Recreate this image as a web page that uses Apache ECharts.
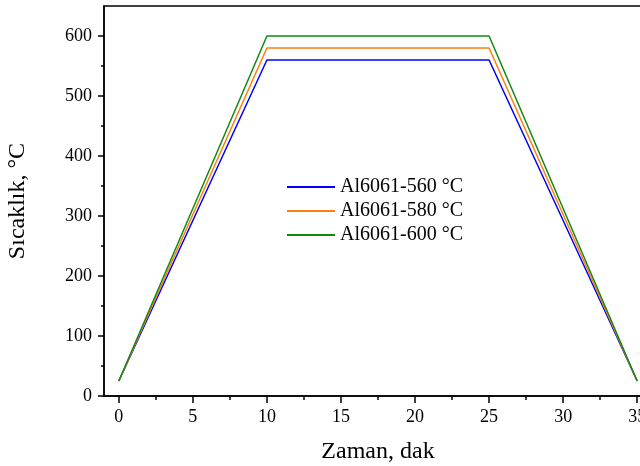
<!DOCTYPE html>
<html><head><meta charset="utf-8">
<script src="https://cdn.jsdelivr.net/npm/echarts@6/dist/echarts.min.js"></script>
<style>html,body{margin:0;padding:0;background:#fff}#c{width:640px;height:466px}</style>
</head><body><div id="c"></div>
<script>
var times = [0, 10, 25, 35];
var s560 = [25, 560, 560, 25];
var s580 = [25, 580, 580, 25];
var s600 = [25, 600, 600, 25];
var seriesNames = ['Al6061-560 °C', 'Al6061-580 °C', 'Al6061-600 °C'];
var xTicks = [0, 5, 10, 15, 20, 25, 30, 35];
var xMinor = [2.5, 7.5, 12.5, 17.5, 22.5, 27.5, 32.5];
var yTicks = [0, 100, 200, 300, 400, 500, 600];
var yMinor = [50, 150, 250, 350, 450, 550];

var font = 'Liberation Serif';
function pairs(v){ return times.map(function(t,i){return [t, v[i]];}); }
var chart = echarts.init(document.getElementById('c'));
var axisLine = {onZero:false, lineStyle:{color:'#000', width:1.5}};
chart.setOption({
  animation:false,
  grid:{left:104, top:6, width:548, height:390, outerBoundsMode:'none', containLabel:false, show:true, borderColor:'#000', borderWidth:1.5, backgroundColor:'transparent'},
  legend:{
    orient:'vertical', left:282, top:172, itemWidth:48, itemHeight:2, itemGap:4, icon:'rect',
    textStyle:{fontFamily:font, fontSize:20, color:'#000'},
    data:seriesNames
  },
  xAxis:[{
    type:'value', min:-1, max:36, position:'bottom',
    name:'Zaman, dak', nameLocation:'middle', nameGap:44,
    nameTextStyle:{fontFamily:font, fontSize:24, color:'#000'},
    axisLine:axisLine,
    axisTick:{show:true, length:7, inside:false, customValues:xTicks, lineStyle:{color:'#000', width:1.5}},
    axisLabel:{customValues:xTicks, fontFamily:font, fontSize:18, color:'#000', margin:12},
    splitLine:{show:false}
  },{
    type:'value', min:-1, max:36, position:'bottom',
    axisLine:{show:false},
    axisTick:{show:true, length:4, customValues:xMinor, lineStyle:{color:'#000', width:1.5}},
    axisLabel:{show:false}, splitLine:{show:false}
  }],
  yAxis:[{
    type:'value', min:0, max:650,
    name:'Sıcaklık, °C', nameLocation:'middle', nameGap:74, nameRotate:90,
    nameTextStyle:{fontFamily:font, fontSize:24, color:'#000'},
    axisLine:axisLine,
    axisTick:{show:true, length:6, customValues:yTicks, lineStyle:{color:'#000', width:1.5}},
    axisLabel:{customValues:yTicks, fontFamily:font, fontSize:18, color:'#000', margin:12},
    splitLine:{show:false}
  },{
    type:'value', min:0, max:650, position:'left',
    axisLine:{show:false, onZero:false},
    axisTick:{show:true, length:3, customValues:yMinor, lineStyle:{color:'#000', width:1.5}},
    axisLabel:{show:false}, splitLine:{show:false}
  }],
  series:[
    {name:seriesNames[0], type:'line', data:pairs(s560), showSymbol:false, lineStyle:{color:'#0000ff', width:1.5}, itemStyle:{color:'#0000ff'}},
    {name:seriesNames[1], type:'line', data:pairs(s580), showSymbol:false, lineStyle:{color:'#ff7f0e', width:1.5}, itemStyle:{color:'#ff7f0e'}},
    {name:seriesNames[2], type:'line', data:pairs(s600), showSymbol:false, lineStyle:{color:'#108a10', width:1.5}, itemStyle:{color:'#108a10'}}
  ]
});
</script></body></html>
